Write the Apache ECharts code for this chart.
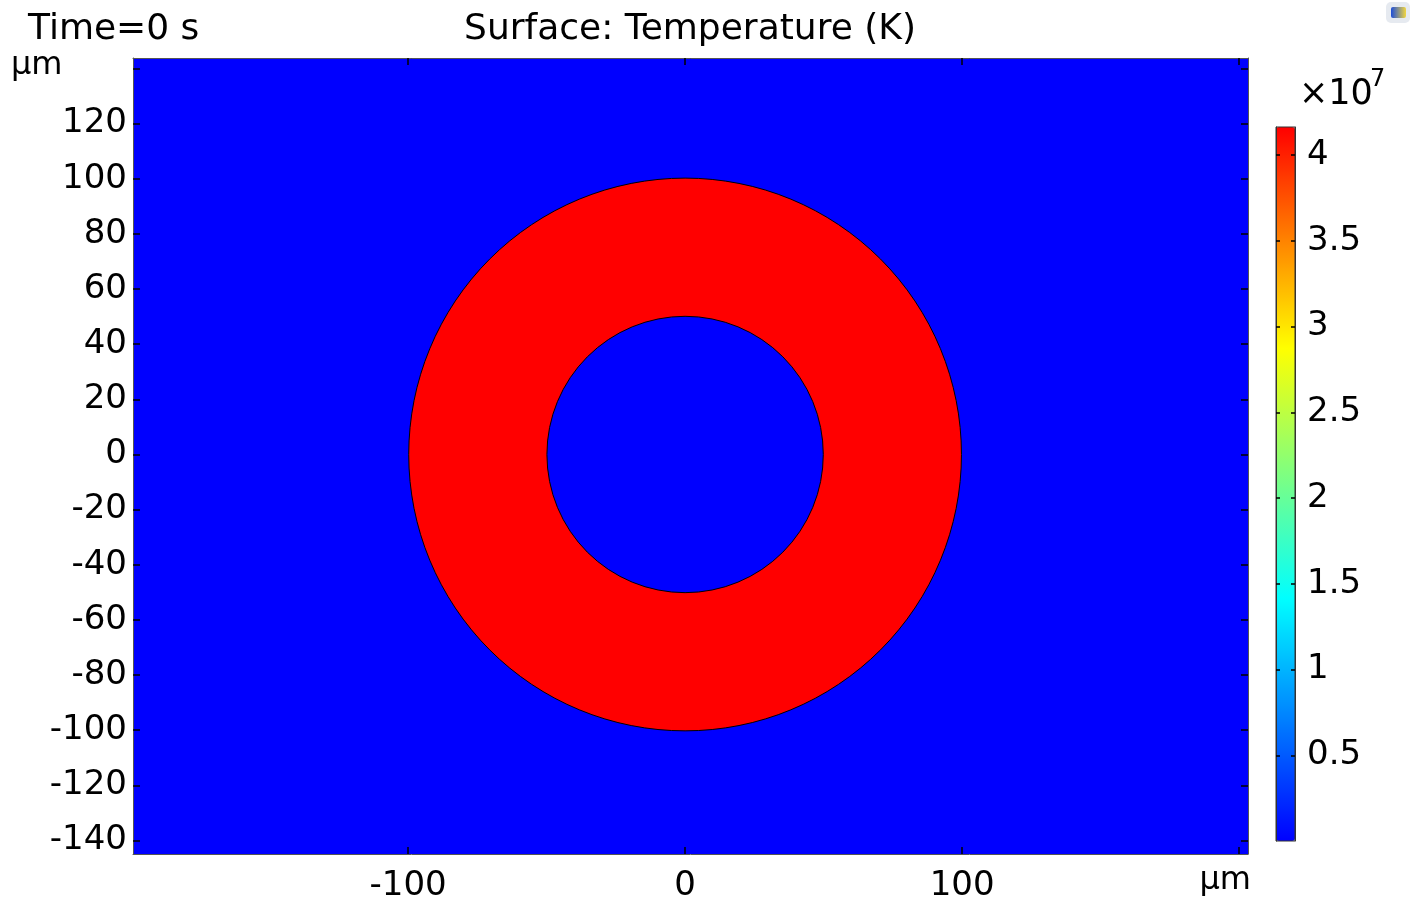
<!DOCTYPE html>
<html>
<head>
<meta charset="utf-8">
<script src="https://cdn.jsdelivr.net/npm/echarts@6/dist/echarts.min.js"></script>
<style>
html,body{margin:0;padding:0;background:#fff;}
#chart{width:1422px;height:903px;}
</style>
</head>
<body>
<div id="chart"></div>
<script>
// ---- data ----
const xRange = [-199.3, 203.2];            // µm
const yRange = [-144.9, 143.8];            // µm
const xTickValues = [-100, 0, 100, 200];
const xLabelValues = [-100, 0, 100];
const yTickValues = [-140, -120, -100, -80, -60, -40, -20, 0, 20, 40, 60, 80, 100, 120, 140];
const yLabelValues = [-140, -120, -100, -80, -60, -40, -20, 0, 20, 40, 60, 80, 100, 120];
const ringCenter = [0, 0];                 // µm
const ringRadii = [50, 100];               // inner, outer (µm)
const ambientTemp = 293.15;                // K
const ringTemp = 4.164e7;                  // K
const colorbarMin = 293.15;
const colorbarMax = 4.164e7;
const colorbarScale = 1e7;
const colorbarTicks = [0.5, 1, 1.5, 2, 2.5, 3, 3.5, 4];

// rainbow colormap stops
const cmapStops = [[0, [0, 0, 255]], [0.34, [0, 255, 255]], [0.69, [255, 255, 0]], [1, [255, 0, 0]]];
function cmap(t) {
  for (let i = 1; i < cmapStops.length; i++) {
    const a = cmapStops[i - 1], b = cmapStops[i];
    if (t <= b[0]) {
      const f = (t - a[0]) / (b[0] - a[0]);
      const c = a[1].map((v, k) => Math.round(v + (b[1][k] - v) * f));
      return 'rgb(' + c.join(',') + ')';
    }
  }
  return 'rgb(255,0,0)';
}
const cmapColors = [];
for (let i = 0; i <= 100; i++) cmapColors.push(cmap(i / 100));

const FONT = 'DejaVu Sans';
const TICK_FS = 34;
const chart = echarts.init(document.getElementById('chart'));

const tickStyle = { color: '#000', width: 1.5 };
const axisLineStyle = { color: '#555', width: 1 };

const option = {
  animation: false,
  backgroundColor: '#fff',
  grid: [
    { left: 133, right: 174, top: 58, bottom: 48, show: false },
    { left: 1276, top: 127, width: 19, height: 714, show: true, borderColor: '#333', borderWidth: 1, backgroundColor: 'transparent', z: 10 }
  ],
  xAxis: [
    { gridIndex: 0, type: 'value', position: 'bottom', min: xRange[0], max: xRange[1], z: 10,
      axisLine: { show: true, onZero: false, lineStyle: axisLineStyle },
      axisTick: { show: true, inside: true, length: 7, lineStyle: tickStyle, customValues: xTickValues },
      axisLabel: { show: true, customValues: xLabelValues, fontSize: TICK_FS, fontFamily: FONT, color: '#000', margin: 15 },
      splitLine: { show: false } },
    { gridIndex: 0, type: 'value', position: 'top', min: xRange[0], max: xRange[1], z: 10,
      axisLine: { show: true, onZero: false, lineStyle: axisLineStyle },
      axisTick: { show: true, inside: true, length: 7, lineStyle: tickStyle, customValues: xTickValues },
      axisLabel: { show: false }, splitLine: { show: false } },
    { gridIndex: 1, type: 'value', min: 0, max: 1, show: false }
  ],
  yAxis: [
    { gridIndex: 0, type: 'value', position: 'left', min: yRange[0], max: yRange[1], z: 10,
      axisLine: { show: true, onZero: false, lineStyle: axisLineStyle },
      axisTick: { show: true, inside: true, length: 7, lineStyle: tickStyle, customValues: yTickValues },
      axisLabel: { show: true, customValues: yLabelValues, fontSize: TICK_FS, fontFamily: FONT, color: '#000', margin: 6 },
      splitLine: { show: false } },
    { gridIndex: 0, type: 'value', position: 'right', min: yRange[0], max: yRange[1], z: 10,
      axisLine: { show: true, onZero: false, lineStyle: axisLineStyle },
      axisTick: { show: true, inside: true, length: 7, lineStyle: tickStyle, customValues: yTickValues },
      axisLabel: { show: false }, splitLine: { show: false } },
    { gridIndex: 1, type: 'value', position: 'right', min: colorbarMin / colorbarScale, max: colorbarMax / colorbarScale, z: 11,
      axisLine: { show: true, onZero: false, lineStyle: { color: '#333', width: 1 } },
      axisTick: { show: true, inside: true, length: 4, lineStyle: { color: '#000', width: 1.5 }, customValues: colorbarTicks },
      axisLabel: { show: true, customValues: colorbarTicks, fontSize: TICK_FS, fontFamily: FONT, color: '#000', margin: 12,
        formatter: v => String(v) },
      splitLine: { show: false } },
    { gridIndex: 1, type: 'value', position: 'left', min: colorbarMin / colorbarScale, max: colorbarMax / colorbarScale, z: 11,
      axisLine: { show: true, onZero: false, lineStyle: { color: '#333', width: 1 } },
      axisTick: { show: true, inside: true, length: 4, lineStyle: { color: '#000', width: 1.5 }, customValues: colorbarTicks },
      axisLabel: { show: false }, splitLine: { show: false } }
  ],
  visualMap: {
    type: 'continuous',
    seriesIndex: [0, 1],
    dimension: 2,
    min: colorbarMin,
    max: colorbarMax,
    calculable: false,
    hoverLink: false,
    realtime: false,
    orient: 'vertical',
    left: 1276,
    top: 127,
    padding: 0,
    itemWidth: 19,
    itemHeight: 714,
    text: null,
    showLabel: false,
    inRange: { color: cmapColors },
    z: 4
  },
  series: [
    {
      type: 'custom', xAxisIndex: 0, yAxisIndex: 0, clip: true, z: 2,
      data: [[xRange[0], yRange[0], ambientTemp, xRange[1], yRange[1]]],
      encode: { x: [0, 3], y: [1, 4] },
      renderItem: function (params, api) {
        const p0 = api.coord([api.value(0), api.value(1)]);
        const p1 = api.coord([api.value(3), api.value(4)]);
        return {
          type: 'rect',
          shape: { x: Math.min(p0[0], p1[0]), y: Math.min(p0[1], p1[1]), width: Math.abs(p1[0] - p0[0]), height: Math.abs(p1[1] - p0[1]) },
          style: { fill: api.visual('color') }
        };
      }
    },
    {
      type: 'custom', xAxisIndex: 0, yAxisIndex: 0, clip: true, z: 3,
      data: [[ringCenter[0], ringCenter[1], ringTemp, ringRadii[0], ringRadii[1]]],
      encode: { x: 0, y: 1 },
      renderItem: function (params, api) {
        const c = api.coord([api.value(0), api.value(1)]);
        const s0 = api.size([api.value(3), api.value(3)]);
        const s1 = api.size([api.value(4), api.value(4)]);
        return {
          type: 'ring',
          shape: { cx: c[0], cy: c[1], r0: (s0[0] + s0[1]) / 2, r: (s1[0] + s1[1]) / 2 },
          style: { fill: api.visual('color'), stroke: '#000', lineWidth: 1 }
        };
      }
    }
  ],
  graphic: [
    { type: 'text', x: 28, y: 30, style: { text: 'Time=0 s', fontSize: 36, fontFamily: FONT, fill: '#000', align: 'left', verticalAlign: 'middle' } },
    { type: 'text', x: 690, y: 30, style: { text: 'Surface: Temperature (K)', fontSize: 36, fontFamily: FONT, fill: '#000', align: 'center', verticalAlign: 'middle' } },
    { type: 'text', x: 11, y: 66, style: { text: 'µm', fontSize: 32, fontFamily: FONT, fill: '#000', align: 'left', verticalAlign: 'middle' } },
    { type: 'text', x: 1251, y: 881, style: { text: 'µm', fontSize: 32, fontFamily: FONT, fill: '#000', align: 'right', verticalAlign: 'middle' } },
    { type: 'text', x: 1299, y: 95, style: { text: '×10', fontSize: 35, fontFamily: FONT, fill: '#000', align: 'left', verticalAlign: 'middle' } },
    { type: 'text', x: 1370, y: 80, style: { text: '7', fontSize: 24, fontFamily: FONT, fill: '#000', align: 'left', verticalAlign: 'middle' } },
    { type: 'rect', x: 1386, y: 2, shape: { width: 24, height: 21, r: 5 }, style: { fill: '#e6eaf0' } },
    { type: 'rect', x: 1391, y: 7, shape: { width: 15, height: 11, r: 2 },
      style: { fill: { type: 'linear', x: 0, y: 0, x2: 1, y2: 0, colorStops: [{ offset: 0, color: '#1e4fd8' }, { offset: 1, color: '#f2d640' }] } } }
  ]
};
chart.setOption(option);
</script>
</body>
</html>
